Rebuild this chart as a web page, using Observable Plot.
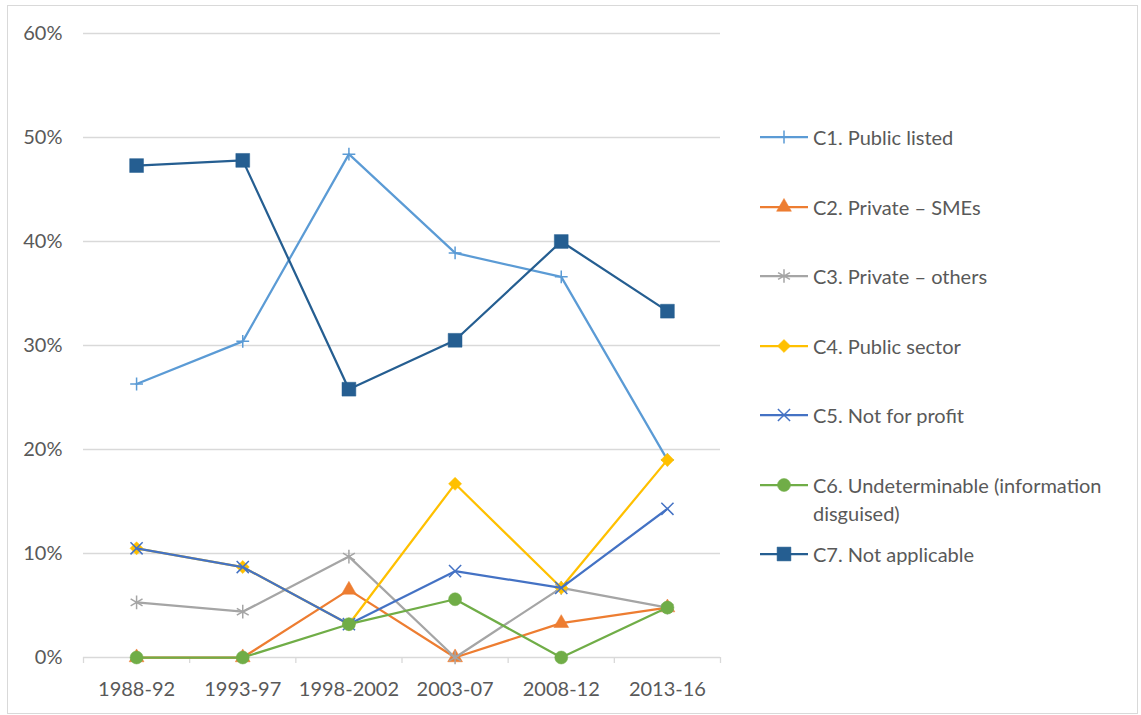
<!DOCTYPE html>
<html><head><meta charset="utf-8">
<script src="https://cdn.jsdelivr.net/npm/d3@7"></script>
<script src="https://cdn.jsdelivr.net/npm/@observablehq/plot@0.6"></script>
<style>
body{margin:0;background:#fff;}
#wrap{position:relative;width:1141px;height:715px;overflow:hidden;font-family:Lato,sans-serif;background:#fff;}
#frame{position:absolute;left:7px;top:5px;width:1131px;height:709px;border:1px solid #d9d9d9;box-sizing:border-box;pointer-events:none;}
#chart{position:absolute;left:0;top:0;}
#legend{position:absolute;left:760px;top:0;width:381px;height:715px;}
.item{position:absolute;left:0;height:28px;}
.item svg{position:absolute;left:0;top:0;overflow:visible;}
.item span{position:absolute;left:53px;top:0;line-height:28px;font-size:20px;color:#595959;white-space:nowrap;}
</style></head>
<body>
<div id="wrap"><div id="chart"></div><div id="legend"></div><div id="frame"></div></div>
<script>
const periods = ["1988-92","1993-97","1998-2002","2003-07","2008-12","2013-16"];
const seriesNames = ["C1. Public listed","C2. Private – SMEs","C3. Private – others","C4. Public sector","C5. Not for profit","C6. Undeterminable (information disguised)","C7. Not applicable"];
const c1 = [26.3, 30.4, 48.4, 38.9, 36.6, 19.0];
const c2 = [0, 0, 6.5, 0, 3.3, 4.8];
const c3 = [5.3, 4.4, 9.7, 0, 6.7, 4.8];
const c4 = [10.5, 8.7, 3.2, 16.7, 6.7, 19.0];
const c5 = [10.5, 8.7, 3.2, 8.3, 6.7, 14.3];
const c6 = [0, 0, 3.2, 5.6, 0, 4.8];
const c7 = [47.3, 47.8, 25.8, 30.5, 40.0, 33.3];
const yTicks = [0, 10, 20, 30, 40, 50, 60];

const seriesValues = [c1, c2, c3, c4, c5, c6, c7];
const colors = ["#5B9BD5","#ED7D31","#A5A5A5","#FFC000","#4472C4","#70AD47","#255E91"];
const symbols = ["plus","triangle","asterisk","diamond2","times","circle","square"];
const symR = [4.2, 5.5, 6.5, 5.9, 5.6, 6.5, 7.8];
const strokeSym = {plus: true, asterisk: true, times: true};

const idx = periods.map((p, i) => i);
const boundaries = [...idx.map(i => i - 0.5), periods.length - 0.5];

const marks = [
  Plot.ruleY(yTicks.filter(t => t > 0), {stroke: "#d9d9d9", strokeWidth: 1.3}),
  Plot.ruleY([0], {stroke: "#d9d9d9", strokeWidth: 1.3}),
  Plot.ruleX(boundaries, {x: d => d, y1: 0, y2: 0, insetBottom: -6, stroke: "#d9d9d9", strokeWidth: 1.3})
];
seriesValues.forEach((vals, s) => {
  const rows = vals.map((v, i) => ({x: i, y: v}));
  marks.push(Plot.line(rows, {x: "x", y: "y", stroke: colors[s], strokeWidth: 2.25, curve: "linear"}));
  const sym = symbols[s];
  if (strokeSym[sym]) {
    marks.push(Plot.dot(rows, {x: "x", y: "y", symbol: () => sym, r: symR[s], stroke: colors[s], strokeWidth: 1.5, fill: "none"}));
  } else {
    marks.push(Plot.dot(rows, {x: "x", y: "y", symbol: () => sym, r: symR[s], fill: colors[s], stroke: colors[s], strokeWidth: 0.5}));
  }
});

const chart = Plot.plot({
  width: 1141, height: 715,
  marginLeft: 83, marginRight: 421, marginTop: 33, marginBottom: 58,
  style: {fontFamily: "Lato, sans-serif", fontSize: "20px", color: "#595959", background: "transparent", overflow: "visible"},
  symbol: {type: "identity"},
  x: {type: "linear", domain: [-0.5, periods.length - 0.5], ticks: idx, tickFormat: i => periods[i], tickSize: 0, tickPadding: 24, label: null},
  y: {domain: [0, 60], ticks: yTicks, tickFormat: d => d + "%", tickSize: 0, tickPadding: 21, label: null},
  marks
});
document.getElementById("chart").appendChild(chart);

// Legend
const legend = document.getElementById("legend");
const itemCenters = [137, 207, 276, 346, 415, 485, 554];
const symMap = {plus: d3.symbolPlus, triangle: d3.symbolTriangle, asterisk: d3.symbolAsterisk, diamond2: d3.symbolDiamond2, times: d3.symbolTimes, circle: d3.symbolCircle, square: d3.symbolSquare};
seriesNames.forEach((name, s) => {
  const div = document.createElement("div");
  div.className = "item";
  div.style.top = (itemCenters[s] - 14) + "px";
  const svg = d3.create("svg").attr("width", 48).attr("height", 28);
  svg.append("line").attr("x1", 0).attr("x2", 48).attr("y1", 14).attr("y2", 14)
    .attr("stroke", colors[s]).attr("stroke-width", 2.25);
  const sym = symbols[s];
  const path = svg.append("path").attr("transform", "translate(24,14)")
    .attr("d", d3.symbol(symMap[sym], Math.PI * symR[s] * symR[s])());
  if (strokeSym[sym]) path.attr("fill", "none").attr("stroke", colors[s]).attr("stroke-width", 1.5);
  else path.attr("fill", colors[s]).attr("stroke", colors[s]).attr("stroke-width", 0.5);
  div.appendChild(svg.node());
  const span = document.createElement("span");
  if (s === 5) {
    span.innerHTML = "C6. Undeterminable (information<br>disguised)";
  } else {
    span.textContent = name;
  }
  div.appendChild(span);
  legend.appendChild(div);
});
</script>
</body></html>
